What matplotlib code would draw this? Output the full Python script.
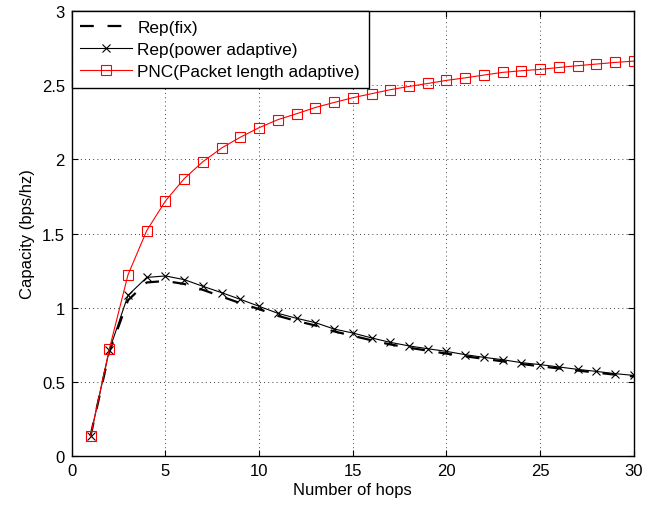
import matplotlib

matplotlib.use("Agg")

import matplotlib.pyplot as plt

plt.rcParams["font.family"] = ["Liberation Sans", "DejaVu Sans"]

hops = list(range(1, 31))

rep_fix = [0.135, 0.70, 1.05, 1.17, 1.18, 1.16, 1.12, 1.075, 1.03, 0.99,
           0.945, 0.91, 0.88, 0.84, 0.81, 0.78, 0.752, 0.73, 0.71, 0.69,
           0.672, 0.655, 0.638, 0.62, 0.605, 0.59, 0.576, 0.562, 0.548, 0.536]

rep_power = [0.135, 0.712, 1.083, 1.204, 1.214, 1.189, 1.144, 1.101, 1.056, 1.009,
             0.962, 0.928, 0.899, 0.856, 0.829, 0.796, 0.766, 0.742, 0.723, 0.705,
             0.683, 0.665, 0.649, 0.629, 0.616, 0.600, 0.584, 0.570, 0.555, 0.543]

pnc = [0.135, 0.72, 1.222, 1.52, 1.72, 1.87, 1.985, 2.077, 2.15, 2.214,
       2.268, 2.308, 2.35, 2.384, 2.416, 2.443, 2.47, 2.492, 2.512, 2.533,
       2.55, 2.569, 2.587, 2.598, 2.607, 2.62, 2.632, 2.643, 2.654, 2.663]

x_ticks = [0, 5, 10, 15, 20, 25, 30]
y_ticks = [0, 0.5, 1, 1.5, 2, 2.5, 3]
y_tick_labels = ["0", "0.5", "1", "1.5", "2", "2.5", "3"]

fig = plt.figure(figsize=(6.65, 5.06), dpi=100)
ax = fig.add_axes([0.108, 0.097, 0.845, 0.879])

ax.plot(hops, rep_fix, color="black", linestyle=(0, (6.2, 6.2)), linewidth=1.6,
        label="Rep(fix)")
ax.plot(hops, rep_power, color="black", linewidth=0.8, marker="x",
        markersize=6, markeredgewidth=0.8, label="Rep(power adaptive)")
ax.plot(hops, pnc, color="red", linewidth=0.8, marker="s", markersize=7,
        markerfacecolor="none", markeredgewidth=0.8,
        label="PNC(Packet length adaptive)")

ax.set_xlim(0, 30)
ax.set_ylim(0, 3)
ax.set_xticks(x_ticks)
ax.set_yticks(y_ticks)
ax.set_yticklabels(y_tick_labels)
ax.tick_params(direction="in", top=True, right=True, labelsize=12, length=4,
               pad=5)
for spine in ax.spines.values():
    spine.set_linewidth(1.0)
ax.grid(True, color="black", linestyle=(0, (1, 4)), linewidth=0.6)
ax.set_xlabel("Number of hops", fontsize=12, labelpad=3)
ax.set_ylabel("Capacity (bps/hz)", fontsize=12, labelpad=5)

leg = ax.legend(loc="upper left", fontsize=12.4, frameon=True, fancybox=False,
                framealpha=1, edgecolor="black", borderaxespad=0,
                handlelength=3.0, handletextpad=0.3, borderpad=0.5,
                labelspacing=0.42)
leg.get_frame().set_linewidth(1.0)

fig.savefig("out.png", dpi=100)
